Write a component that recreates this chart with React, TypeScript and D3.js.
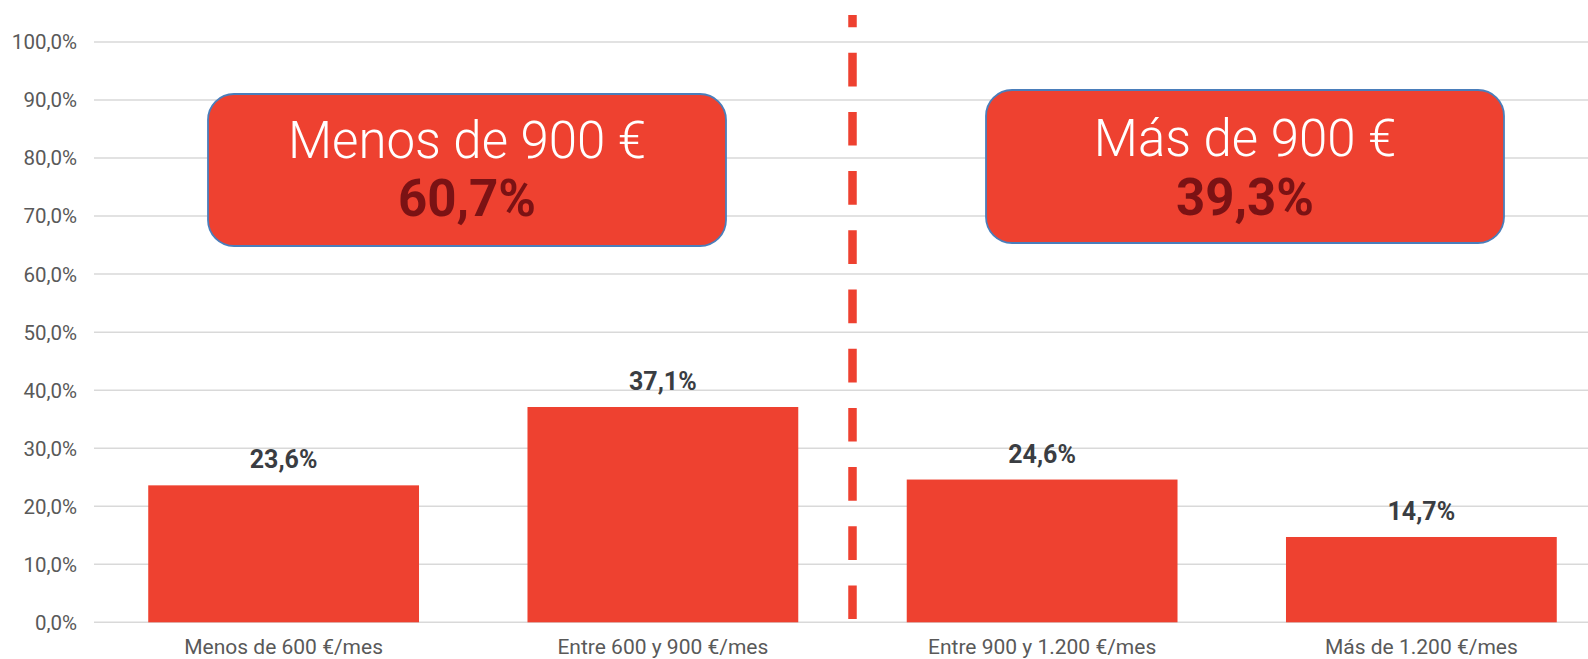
import React from "react";
import * as d3 from "d3";

const categories = [
  "Menos de 600 €/mes",
  "Entre 600 y 900 €/mes",
  "Entre 900 y 1.200 €/mes",
  "Más de 1.200 €/mes",
];
const values = [23.6, 37.1, 24.6, 14.7];
const yTicks = [0, 10, 20, 30, 40, 50, 60, 70, 80, 90, 100];
const groupTitles = ["Menos de 900 €", "Más de 900 €"];
const groupValues = [60.7, 39.3];

const W = 1588;
const H = 659;
const RED = "#EE4130";
const FONT = "Roboto, 'Noto Sans', sans-serif";

const fmt = (v: number) => v.toFixed(1).replace(".", ",") + "%";

export default function App() {
  const x = d3
    .scaleBand<string>()
    .domain(categories)
    .range([94, 1611])
    .paddingInner(0.286)
    .paddingOuter(0.143);
  const y = d3.scaleLinear().domain([0, 100]).range([622.3, 42]);

  const divider = (x(categories[1])! + x.bandwidth() + x(categories[2])!) / 2;

  const boxes = [
    { x0: 208, x1: 726, y0: 94, y1: 246, t1: 158, t2: 216 },
    { x0: 986, x1: 1504, y0: 90, y1: 243, t1: 156, t2: 215 },
  ];

  return (
    <svg
      width={W}
      height={H}
      style={{ position: "absolute", left: 0, top: 0, display: "block", background: "#fff" }}
      fontFamily={FONT}
    >
      {yTicks.map((t) => (
        <g key={t}>
          <line x1={94} x2={W} y1={y(t)} y2={y(t)} stroke="#D9D9D9" strokeWidth={1.5} />
          <text
            x={77}
            y={y(t)}
            dy="0.36em"
            textAnchor="end"
            fontSize={20.5}
            fill="#595959"
          >
            {fmt(t)}
          </text>
        </g>
      ))}

      {categories.map((c, i) => (
        <g key={c}>
          <rect
            x={x(c)}
            y={y(values[i])}
            width={x.bandwidth()}
            height={y(0) - y(values[i])}
            fill={RED}
          />
          <text
            x={x(c)! + x.bandwidth() / 2}
            y={y(values[i]) - 17}
            textAnchor="middle"
            fontSize={25}
            fontWeight={700}
            fill="#3A3D42"
          >
            {fmt(values[i])}
          </text>
          <text
            x={x(c)! + x.bandwidth() / 2}
            y={654}
            textAnchor="middle"
            fontSize={21}
            fill="#595959"
          >
            {c}
          </text>
        </g>
      ))}

      <line
        x1={divider}
        x2={divider}
        y1={15}
        y2={619}
        stroke={RED}
        strokeWidth={8.5}
        strokeDasharray="33.7 25.5"
        strokeDashoffset={21.5}
      />

      {boxes.map((b, i) => (
        <g key={i}>
          <rect
            x={b.x0}
            y={b.y0}
            width={b.x1 - b.x0}
            height={b.y1 - b.y0}
            rx={26}
            ry={26}
            fill={RED}
            stroke="#4A7EBB"
            strokeWidth={1.8}
          />
          <text
            x={(b.x0 + b.x1) / 2}
            y={b.t1}
            textAnchor="middle"
            fontSize={51}
            fontWeight={300}
            fill="#FFFFFF"
          >
            {groupTitles[i]}
          </text>
          <text
            x={(b.x0 + b.x1) / 2}
            y={b.t2}
            textAnchor="middle"
            fontSize={51}
            fontWeight={700}
            fill="#7B1214"
          >
            {fmt(groupValues[i])}
          </text>
        </g>
      ))}
    </svg>
  );
}
